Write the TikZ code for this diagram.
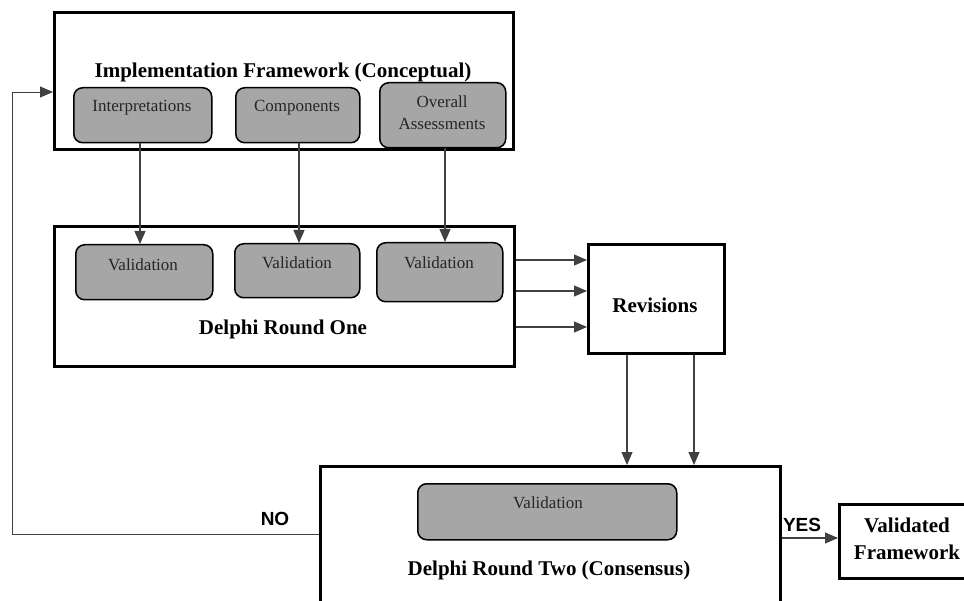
\documentclass[tikz,border=0pt]{standalone}
\usepackage{fontspec}
\setmainfont{Liberation Serif}
\newfontfamily\labelsans{Liberation Sans}
\usetikzlibrary{arrows.meta}
\definecolor{boxgray}{HTML}{A6A6A6}
\definecolor{linkgray}{HTML}{404040}
\definecolor{textdark}{HTML}{262626}
\tikzset{
  frame/.style={draw=black, line width=2.6pt, fill=white, inner sep=0pt, anchor=north west},
  inbox/.style={draw=black, line width=1.5pt, fill=boxgray, rounded corners=9pt, inner sep=0pt, anchor=north west},
  title/.style={font=\bfseries\fontsize{21}{25}\selectfont, text=black, inner sep=0pt},
  small/.style={font=\fontsize{17}{21}\selectfont, text=textdark, inner sep=0pt, align=center},
  decision/.style={font=\labelsans\bfseries\fontsize{19}{22}\selectfont, inner sep=0pt},
  link/.style={draw=linkgray, line width=1.1pt},
  arr/.style={link, -{Triangle[length=13pt, width=11pt]}},
}
\begin{document}
\begin{tikzpicture}[x=1pt, y=-1pt]
\useasboundingbox (0,0) rectangle (964,601);

% conceptual framework
\node[frame, minimum width=459pt, minimum height=137pt] (top) at (53,11) {};
\node[title] (toptitle) at (283,72) {Implementation Framework (Conceptual)};
\node[inbox, minimum width=138pt, minimum height=55pt] (interp) at (73,87) {};
\node[inbox, minimum width=124pt, minimum height=55pt] (comp) at (235,87) {};
\node[inbox, minimum width=126pt, minimum height=65pt] (overall) at (379,82) {};
\node[small] (interptext) at (142,108) {Interpretations};
\node[small] (comptext) at (297,108) {Components};
\node[small, font=\fontsize{17}{22}\selectfont] (overalltext) at (442,113) {Overall\\Assessments};

% Delphi round one
\node[frame, minimum width=460pt, minimum height=140pt] (mid) at (53,225) {};
\node[inbox, minimum width=137pt, minimum height=55pt] (v1) at (75,244) {};
\node[inbox, minimum width=125pt, minimum height=54pt] (v2) at (234,243) {};
\node[inbox, minimum width=126pt, minimum height=59pt] (v3) at (376,242) {};
\node[small] (v1text) at (143,265) {Validation};
\node[small] (v2text) at (297,263) {Validation};
\node[small] (v3text) at (439,263) {Validation};
\node[title] (midtitle) at (283,329) {Delphi Round One};

% revisions
\node[frame, minimum width=136pt, minimum height=109pt] (rev) at (587,243) {};
\node[title] (revtext) at (655,305) {Revisions};

% Delphi round two
\node[frame, minimum width=460pt, minimum height=160pt] (bot) at (319,465) {};
\node[inbox, minimum width=259pt, minimum height=56pt] (v4) at (417,483) {};
\node[small] (v4text) at (548,503) {Validation};
\node[title] (bottitle) at (549,570) {Delphi Round Two (Consensus)};

% final outcome
\node[frame, minimum width=138pt, minimum height=74pt] (vf) at (838,503) {};
\node[title, align=center, font=\bfseries\fontsize{21}{27}\selectfont] (vftext) at (907,539) {Validated\\Framework};

% connector guides
\coordinate (ax1) at (140,0);
\coordinate (ax2) at (299,0);
\coordinate (ax3) at (445,0);
\coordinate (ry1) at (0,260);
\coordinate (ry2) at (0,291);
\coordinate (ry3) at (0,327);
\coordinate (dx1) at (627,0);
\coordinate (dx2) at (694,0);
\coordinate (nl) at (12,534);
\coordinate (nu) at (12,92);
\coordinate (yy) at (0,538);

% framework parts to validation
\draw[arr] (interp.south -| ax1) -- (v1.north -| ax1);
\draw[arr] (comp.south -| ax2) -- (v2.north -| ax2);
\draw[arr] (overall.south -| ax3) -- (v3.north -| ax3);

% round one to revisions
\draw[arr] (mid.east |- ry1) -- (rev.west |- ry1);
\draw[arr] (mid.east |- ry2) -- (rev.west |- ry2);
\draw[arr] (mid.east |- ry3) -- (rev.west |- ry3);

% revisions to round two
\draw[arr] (rev.south -| dx1) -- (bot.north -| dx1);
\draw[arr] (rev.south -| dx2) -- (bot.north -| dx2);

% feedback loop and exit
\draw[arr, line width=0.9pt] (bot.west |- nl) -- (nl) -- (nu) -- (top.west |- nu);
\node[decision] (nolabel) at (275,519) {NO};
\draw[arr] (bot.east |- yy) -- (vf.west |- yy);
\node[decision] (yeslabel) at (802,525) {YES};
\end{tikzpicture}
\end{document}
